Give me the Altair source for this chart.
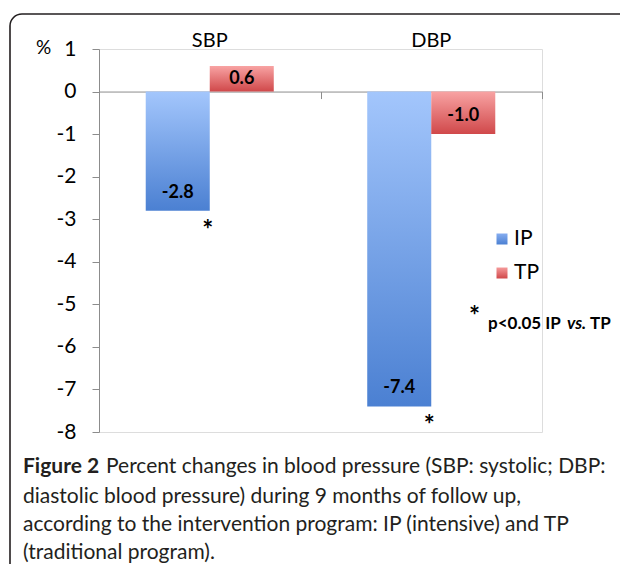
import altair as alt
import pandas as pd

# ---------------- data ----------------
categories = ["SBP", "DBP"]
programs = ["IP", "TP"]
ip_values = [-2.8, -7.4]
tp_values = [0.6, -1.0]
ip_significance = ["*", "*"]
y_ticks = [1, 0, -1, -2, -3, -4, -5, -6, -7, -8]
legend_note = ["p<0.05 IP", "vs.", "TP"]
caption_bold = "Figure 2"
caption_lines = [
    "Percent changes in blood pressure (SBP: systolic; DBP:",
    "diastolic blood pressure) during 9 months of follow up,",
    "according to the intervention program: IP (intensive) and TP",
    "(traditional program).",
]

rows = []
for c, v, s in zip(categories, ip_values, ip_significance):
    rows.append({"category": c, "program": "IP", "value": v, "label": f"{v:.1f}", "sig": s})
for c, v in zip(categories, tp_values):
    rows.append({"category": c, "program": "TP", "value": v, "label": f"{v:.1f}", "sig": ""})
df = pd.DataFrame(rows)

# ---------------- layout ----------------
W, H = 443, 383
PAD = {"left": 91, "top": 41, "right": 78, "bottom": 134}
FONT = "Lato"

x_scale = alt.Scale(domain=categories, paddingInner=0, paddingOuter=0)
xo_scale = alt.Scale(domain=programs, paddingInner=0, paddingOuter=0.73)
y_scale = alt.Scale(domain=[-8, 1], nice=False, zero=False)

y_axis = alt.Axis(
    values=y_ticks, title="%", titleAngle=0, titleX=-56, titleY=-2,
    titleAlign="center", titleBaseline="middle", titleFont=FONT,
    titleFontSize=19, titleFontWeight="normal", titleColor="#000",
    labelFont=FONT, labelFontSize=21, labelColor="#000", labelPadding=16,
    labelExpr="datum.value < 0 ? '-' + abs(datum.value) : '' + datum.value",
    tickSize=7, tickColor="#8c8c8c", domainColor="#8c8c8c", grid=False,
)

x_top_axis = alt.Axis(
    orient="top", title=None, domain=False, ticks=False, tickSize=0,
    labelFont=FONT, labelFontSize=20, labelColor="#000", labelPadding=9,
    labelBaseline="middle", labelAngle=0,
)
x_zero_axis = alt.Axis(
    orient="bottom", title=None, labels=False, offset=-(H - H / 9.0),
    tickBand="extent", tickSize=7, tickColor="#8c8c8c", domainColor="#8c8c8c",
    grid=False,
)

def grad(top, bottom):
    return alt.Gradient(
        gradient="linear", x1=0, y1=0, x2=0, y2=1,
        stops=[alt.GradientStop(color=top, offset=0),
               alt.GradientStop(color=bottom, offset=1)],
    )

ip_grad = grad("#a3c6fc", "#4b80d2")
tp_grad = grad("#f8a3a3", "#d0484a")

base = alt.Chart(df)
Y = alt.Y("value:Q", scale=y_scale, axis=y_axis)

ip_bars = base.transform_filter(alt.datum.program == "IP").mark_bar(color=ip_grad).encode(
    x=alt.X("category:N", scale=x_scale, axis=x_top_axis, sort=categories),
    xOffset=alt.XOffset("program:N", scale=xo_scale),
    y=Y, y2=alt.datum(0),
)
tp_bars = base.transform_filter(alt.datum.program == "TP").mark_bar(color=tp_grad).encode(
    x=alt.X("category:N", scale=x_scale, axis=x_zero_axis, sort=categories),
    xOffset=alt.XOffset("program:N", scale=xo_scale),
    y=Y, y2=alt.datum(0),
)

def enc(**kw):
    return dict(
        x=alt.X("category:N", scale=x_scale, axis=None, sort=categories),
        xOffset=alt.XOffset("program:N", scale=xo_scale),
        y=Y, **kw,
    )

neg_labels = base.transform_filter(alt.datum.value < 0).mark_text(
    font=FONT, fontSize=18, fontWeight="bold", color="#000", baseline="middle", dy=-18
).encode(**enc(text="label:N"))
pos_labels = base.transform_filter(alt.datum.value >= 0).mark_text(
    font=FONT, fontSize=18, fontWeight="bold", color="#000", baseline="middle", dy=13
).encode(**enc(text="label:N"))

stars = base.transform_filter(alt.datum.sig == "*").mark_text(
    font=FONT, fontSize=26, fontWeight="bold", color="#000", baseline="middle", dx=30, dy=20
).encode(**enc(text="sig:N"))

def note(text, x, y, size, weight="normal", style="normal", color="#000"):
    return alt.Chart(alt.Data(values=[{"t": text}])).mark_text(
        font=FONT, fontSize=size, fontWeight=weight, fontStyle=style,
        align="left", baseline="middle", color=color,
    ).encode(x=alt.value(x), y=alt.value(y), text="t:N")

def swatch(fill, cx, cy, s=11):
    return alt.Chart(alt.Data(values=[{"s": 1}])).mark_rect(color=fill).encode(
        x=alt.value(cx - s / 2), x2=alt.value(cx + s / 2),
        y=alt.value(cy - s / 2), y2=alt.value(cy + s / 2),
    )

legend = [
    swatch(grad("#86adf0", "#4b80d2"), 403, 190),
    note(programs[0], 415, 190, 21),
    swatch(grad("#f59a9a", "#d0484a"), 403, 224),
    note(programs[1], 415, 224, 21),
]

foot = [
    note("*", 370, 268, 26, weight="bold"),
    note(legend_note[0], 389, 275, 17, weight="bold"),
    note(legend_note[1], 468, 275, 17, weight="bold", style="italic"),
    note(legend_note[2], 491, 275, 17, weight="bold"),
]

cap_font = 21
cap_x = -76
cap_ys = [418, 448, 476, 504]
cap_col = "#231f20"
caption = [
    note(caption_bold, cap_x, cap_ys[0], cap_font, weight="bold", color=cap_col),
    note(caption_lines[0], cap_x + 83, cap_ys[0], cap_font, color=cap_col),
]
for line, yy in zip(caption_lines[1:], cap_ys[1:]):
    caption.append(note(line, cap_x, yy, cap_font, color=cap_col))

border = alt.Chart(alt.Data(values=[{"b": 1}])).mark_rect(
    fillOpacity=0, stroke="#231f20", strokeWidth=1.6, cornerRadius=12
).encode(x=alt.value(-89), x2=alt.value(560), y=alt.value(-35), y2=alt.value(600))

chart = alt.layer(
    border, ip_bars, tp_bars, neg_labels, pos_labels, stars, *legend, *foot, *caption
).resolve_axis(x="independent").properties(
    width=W, height=H, padding=PAD, autosize=alt.AutoSizeParams(type="none"),
).configure_view(strokeWidth=0).configure(background="white")

chart.save("out.html", embed_options={"renderer": "svg", "actions": False})
